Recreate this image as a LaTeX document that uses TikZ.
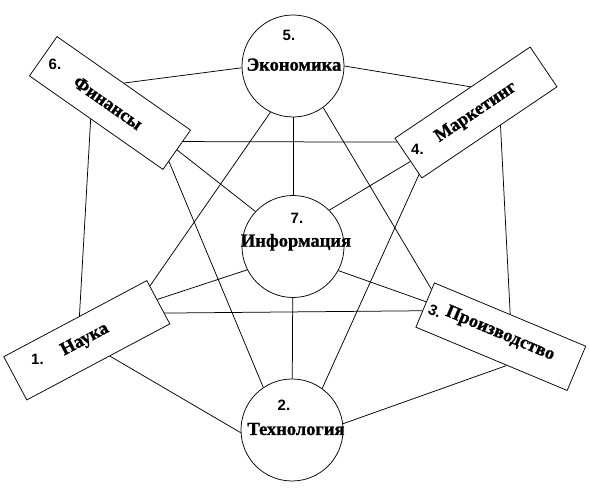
\documentclass[tikz,border=0pt]{standalone}
\usepackage{fontspec}
\setmainfont{Liberation Serif}
\newfontfamily\tfont[FakeBold=1]{Liberation Serif Bold}
\newfontfamily\numfont{Liberation Sans}
\usetikzlibrary{calc}
\begin{document}
\begin{tikzpicture}[x=1pt,y=1pt,
  conn/.style={line width=0.75pt},
  circ/.style={draw, circle, line width=0.75pt, minimum size=102pt, inner sep=0pt},
  box/.style={draw, rectangle, line width=0.75pt, minimum width=163pt, minimum height=48pt, inner sep=0pt},
  num/.style={font=\numfont\bfseries\fontsize{15}{16}\selectfont, inner sep=0pt},
  cname/.style={font=\tfont\fontsize{18.5}{20}\selectfont, inner sep=0pt, anchor=base},
  bname/.style={font=\tfont\fontsize{18.5}{20}\selectfont, inner sep=0pt}]
\useasboundingbox (0,0) rectangle (590,490);
% circles
\node[circ] (eco) at (293,424) {};
\node[circ] (inf) at (293,243.5) {};
\node[circ] (tec) at (292,60) {};
% boxes
\node[box, rotate=-35] (fin) at (110,387) {};
\node[box, rotate=34] (mar) at (476,377.5) {};
\node[box, rotate=28, minimum height=49pt, minimum width=162pt] (nau) at (86.8,149.7) {};
\node[box, rotate=-22.7, minimum width=164pt] (pro) at (500.8,153.3) {};
% box names
\node[bname, rotate=-35] (fintxt) at (108,387) {Финансы};
\node[bname, rotate=34] (martxt) at (476,377.5) {Маркетинг};
\node[bname, rotate=28] (nautxt) at (85,150) {Наука};
\node[bname, rotate=-22.7] (protxt) at (500,156) {Производство};
% numbers
\node[num] (n5) at (289,455) {5.};
\node[num] (n7) at (297,272) {7.};
\node[num] (n2) at (284,85) {2.};
\node[num] (n6) at (55,426) {6.};
\node[num] (n4) at (417.5,341) {4.};
\node[num] (n1) at (37.5,131) {1.};
\node[num, rotate=-22.7] (n3) at (435,179) {3.};
% circle names
\node[cname] (ecotxt) at (294,419.3) {Экономика};
\node[cname] (inftxt) at (296,243.3) {Информация};
\node[cname] (tectxt) at (296,55) {Технология};
% connectors
\draw[conn] (eco.182) -- (fin.north);
\draw[conn] ($(fin.south west)!0.46!(fin.south east)$) -- ($(nau.north west)!0.53!(nau.north east)$);
\draw[conn] ($(fin.north east)!0.29!(fin.south east)$) -- ($(mar.north west)!0.1!(mar.south west)$);
\draw[conn] (fin.east) -- (inf.137);
\draw[conn] ($(fin.north east)!0.79!(fin.south east)$) -- (tec.124);
\draw[conn] (eco.244) -- ($(nau.north east)!0.13!(nau.south east)$);
\draw[conn] (eco) -- (inf);
\draw[conn] (eco.0) -- ($(mar.north west)!0.56!(mar.north east)$);
\draw[conn] (eco.306) -- ($(pro.north west)!0.15!(pro.south west)$);
\draw[conn] ($(mar.north west)!0.58!(mar.south west)$) -- (inf.45);
\draw[conn] ($(mar.north west)!0.9!(mar.south west)$) -- (tec.54);
\draw[conn] ($(mar.south west)!0.58!(mar.south east)$) -- (pro.north);
\draw[conn] (inf.207) -- ($(nau.north east)!0.44!(nau.south east)$);
\draw[conn] ($(nau.north east)!0.75!(nau.south east)$) -- ($(pro.north west)!0.63!(pro.south west)$);
\draw[conn] ($(nau.south west)!0.58!(nau.south east)$) -- (tec.183);
\draw[conn] (inf) -- (tec);
\draw[conn] (inf.332) -- ($(pro.north west)!0.43!(pro.south west)$);
\draw[conn] (tec.7) -- ($(pro.south west)!0.6!(pro.south east)$);
\end{tikzpicture}
\end{document}
